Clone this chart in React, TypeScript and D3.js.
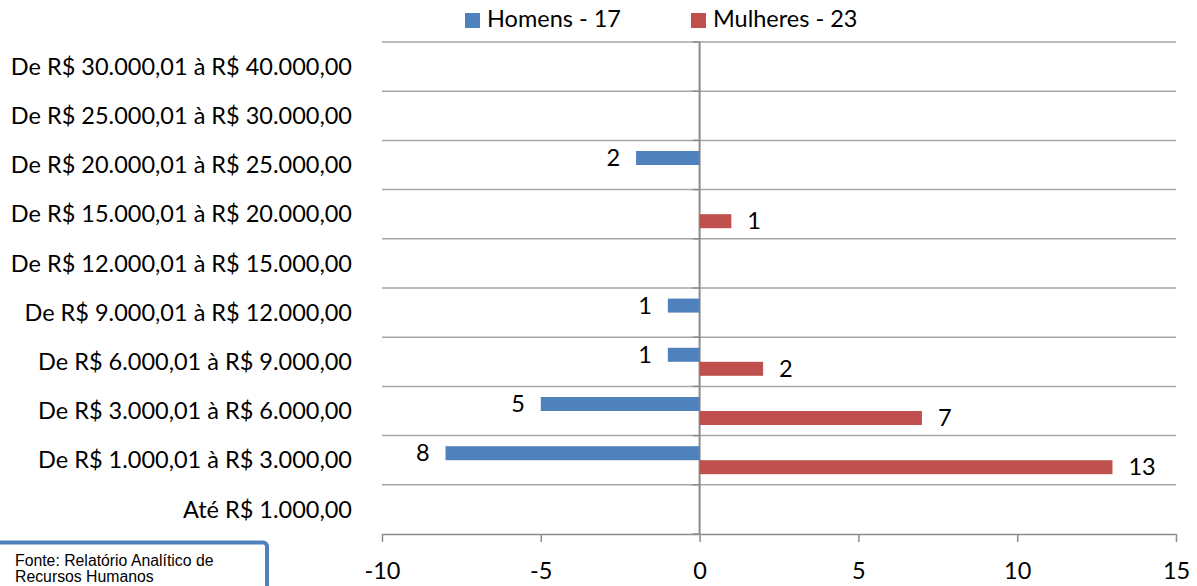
import { useEffect, useRef } from 'react';
import * as d3 from 'd3';

const faixas = [
  'De R$ 30.000,01 à R$ 40.000,00',
  'De R$ 25.000,01 à R$ 30.000,00',
  'De R$ 20.000,01 à R$ 25.000,00',
  'De R$ 15.000,01 à R$ 20.000,00',
  'De R$ 12.000,01 à R$ 15.000,00',
  'De R$ 9.000,01 à R$ 12.000,00',
  'De R$ 6.000,01 à R$ 9.000,00',
  'De R$ 3.000,01 à R$ 6.000,00',
  'De R$ 1.000,01 à R$ 3.000,00',
  'Até R$ 1.000,00',
];
// homens are drawn on the negative side
const homens = [0, 0, -2, 0, 0, -1, -1, -5, -8, 0];
const mulheres = [0, 0, 0, 1, 0, 0, 2, 7, 13, 0];
const seriesNames = ['Homens - 17', 'Mulheres - 23'];
const xTicks = [-10, -5, 0, 5, 10, 15];

const BLUE = '#4F81BD';
const RED = '#C0504D';
const FONT = 'Lato, Carlito, sans-serif';
const FS = 23.5;

export default function App() {
  const ref = useRef<SVGSVGElement>(null);

  useEffect(() => {
    const svg = d3.select(ref.current);
    svg.selectAll('*').remove();

    const x = d3.scaleLinear().domain([-10, 15]).range([382, 1176]);
    const y = d3.scaleBand().domain(faixas).range([42, 534]).padding(0);
    const sub = d3.scaleBand().domain(['h', 'm']).range([0, y.bandwidth()]).paddingInner(0).paddingOuter(0.757);

    // horizontal gridlines at category boundaries
    const bounds = faixas.map(f => y(f) as number);
    svg.append('g').selectAll('line').data(bounds).enter().append('line')
      .attr('x1', x(-10)).attr('x2', x(15)).attr('y1', d => d).attr('y2', d => d)
      .attr('stroke', '#a6a6a6').attr('stroke-width', 1.5);

    // x axis
    const xa = svg.append('g').attr('transform', `translate(0,${y.range()[1]})`)
      .call(d3.axisBottom(x).tickValues(xTicks).tickSize(8).tickSizeOuter(0).tickPadding(20)
        .tickFormat(d => String(d)));
    xa.select('.domain').attr('stroke', '#8c8c8c').attr('stroke-width', 1.5);
    xa.selectAll('.tick line').attr('stroke', '#8c8c8c').attr('stroke-width', 1.5);
    xa.selectAll('.tick text').attr('font-family', FONT).attr('font-size', FS).attr('fill', '#000');

    // zero axis with small ticks
    svg.append('line').attr('x1', x(0)).attr('x2', x(0)).attr('y1', y.range()[0]).attr('y2', y.range()[1])
      .attr('stroke', '#8c8c8c').attr('stroke-width', 2);
    svg.append('g').selectAll('line').data([...bounds, y.range()[1]]).enter().append('line')
      .attr('x1', x(0) - 7).attr('x2', x(0)).attr('y1', d => d).attr('y2', d => d)
      .attr('stroke', '#8c8c8c').attr('stroke-width', 1.5);

    const rows = faixas.map((f, i) => ({ f, h: homens[i], m: mulheres[i] }));

    // bars
    const g = svg.append('g');
    g.selectAll('.bh').data(rows.filter(r => r.h !== 0)).enter().append('rect')
      .attr('x', d => x(Math.min(0, d.h))).attr('width', d => Math.abs(x(d.h) - x(0)))
      .attr('y', d => (y(d.f) as number) + (sub('h') as number)).attr('height', sub.bandwidth())
      .attr('fill', BLUE);
    g.selectAll('.bm').data(rows.filter(r => r.m !== 0)).enter().append('rect')
      .attr('x', x(0)).attr('width', d => x(d.m) - x(0))
      .attr('y', d => (y(d.f) as number) + (sub('m') as number)).attr('height', sub.bandwidth())
      .attr('fill', RED);

    // value labels
    g.selectAll('.lh').data(rows.filter(r => r.h !== 0)).enter().append('text')
      .attr('x', d => x(d.h) - 16).attr('y', d => (y(d.f) as number) + (sub('h') as number) + sub.bandwidth() / 2)
      .attr('dy', '0.35em').attr('text-anchor', 'end')
      .attr('font-family', FONT).attr('font-size', FS).attr('fill', '#000')
      .text(d => Math.abs(d.h));
    g.selectAll('.lm').data(rows.filter(r => r.m !== 0)).enter().append('text')
      .attr('x', d => x(d.m) + 16).attr('y', d => (y(d.f) as number) + (sub('m') as number) + sub.bandwidth() / 2)
      .attr('dy', '0.35em').attr('text-anchor', 'start')
      .attr('font-family', FONT).attr('font-size', FS).attr('fill', '#000')
      .text(d => d.m);

    // category labels
    svg.append('g').selectAll('text').data(faixas).enter().append('text')
      .attr('x', 352).attr('y', d => (y(d) as number) + y.bandwidth() / 2).attr('dy', '0.35em')
      .attr('text-anchor', 'end').attr('font-family', FONT).attr('font-size', FS).attr('fill', '#000')
      .text(d => d);

    // legend
    const leg = svg.append('g');
    const legX = [465, 691];
    seriesNames.forEach((s, i) => {
      leg.append('rect').attr('x', legX[i]).attr('y', 13).attr('width', 15).attr('height', 15)
        .attr('fill', i === 0 ? BLUE : RED);
      leg.append('text').attr('x', legX[i] + 22).attr('y', 27)
        .attr('font-family', FONT).attr('font-size', FS).attr('fill', '#000').text(s);
    });

    // source box
    svg.append('rect').attr('x', -20).attr('y', 542.5).attr('width', 287).attr('height', 80).attr('rx', 4)
      .attr('fill', '#fff').attr('stroke', BLUE).attr('stroke-width', 4);
    const src = svg.append('text').attr('font-family', 'Liberation Sans, Arial, sans-serif')
      .attr('font-size', 15.8).attr('fill', '#000');
    src.append('tspan').attr('x', 15).attr('y', 566).text('Fonte: Relatório Analítico de');
    src.append('tspan').attr('x', 15).attr('y', 582).text('Recursos Humanos');
  }, []);

  return (
    <svg ref={ref} width={1197} height={586}
      style={{ position: 'absolute', left: 0, top: 0, background: '#fff' }} />
  );
}
